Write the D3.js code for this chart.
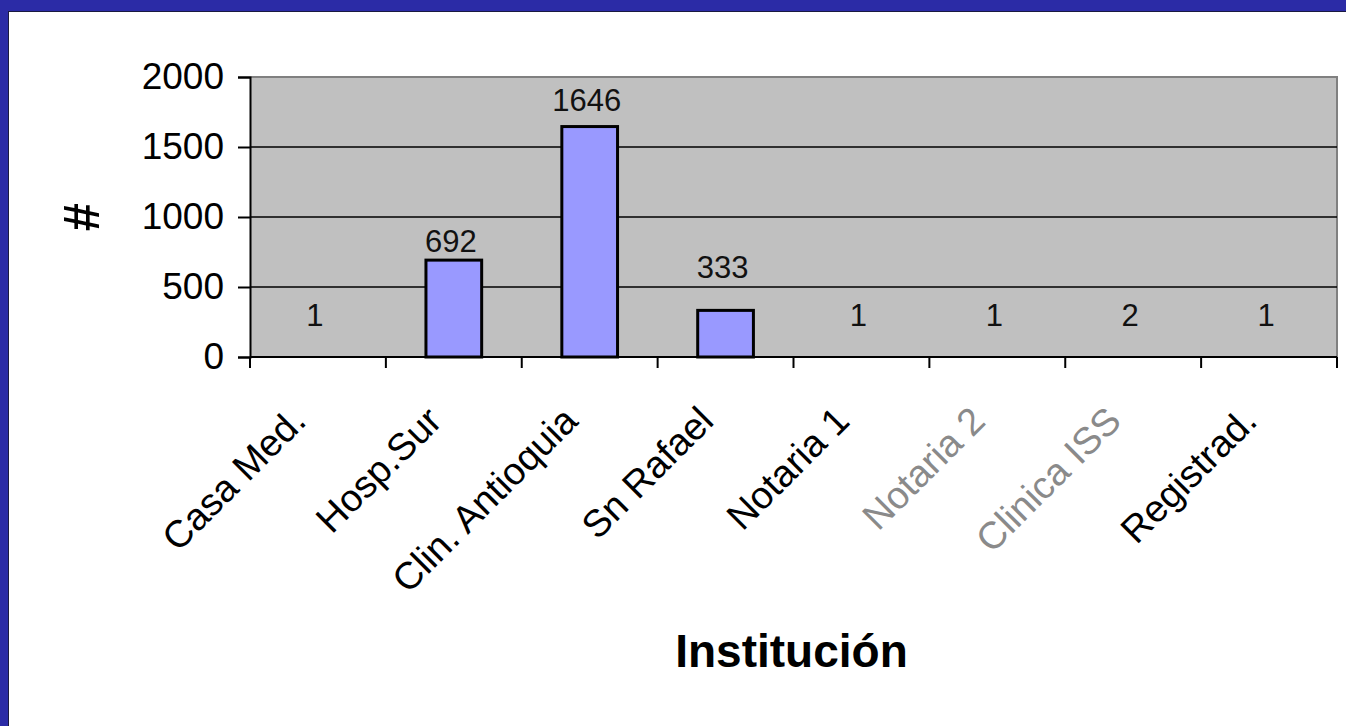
<!DOCTYPE html>
<html>
<head>
<meta charset="utf-8">
<script src="https://cdn.jsdelivr.net/npm/d3@7"></script>
<style>
  html, body { margin: 0; padding: 0; background: #ffffff; }
  svg { display: block; font-family: "Liberation Sans", Arial, sans-serif; }
</style>
</head>
<body>
<svg id="chart" width="1346" height="726"></svg>
<script>
// ---- data ----
const categories = ["Casa Med.", "Hosp.Sur", "Clin. Antioquia", "Sn Rafael", "Notaria 1", "Notaria 2", "Clinica ISS", "Registrad."];
const values = [1, 692, 1646, 333, 1, 1, 2, 1];
const yTicks = [0, 500, 1000, 1500, 2000];
const xTitle = "Institución";
const yTitle = "#";

// ---- styling helpers (not data) ----
const labelLift = [31, 8, 16, 32, 31, 31, 31, 31];
const catLabelColor = ["#000", "#000", "#000", "#000", "#000", "#8a8a8a", "#8a8a8a", "#000"];

const W = 1346, H = 726;
const svg = d3.select("#chart");

// frame
svg.append("rect").attr("x", 0).attr("y", 0).attr("width", W).attr("height", H).attr("fill", "#2B2BA6");
svg.append("rect").attr("x", 8).attr("y", 11).attr("width", W - 8).attr("height", H - 11).attr("fill", "#ffffff");
svg.append("line").attr("x1", 8.5).attr("x2", 8.5).attr("y1", 11).attr("y2", H).attr("stroke", "#1a1a40").attr("stroke-width", 1);
svg.append("line").attr("x1", 8).attr("x2", W).attr("y1", 11.5).attr("y2", 11.5).attr("stroke", "#1a1a40").attr("stroke-width", 1);

const plot = { left: 250, right: 1337, top: 77, bottom: 357 };

const x = d3.scaleBand().domain(categories).range([plot.left, plot.right]).paddingInner(0).paddingOuter(0);
const y = d3.scaleLinear().domain([0, 2000]).range([plot.bottom, plot.top]);

// plot background
svg.append("rect")
  .attr("x", plot.left).attr("y", plot.top)
  .attr("width", plot.right - plot.left).attr("height", plot.bottom - plot.top)
  .attr("fill", "#C0C0C0");

// plot border (top & right gray)
svg.append("path")
  .attr("d", `M${plot.left},${plot.top}H${plot.right}V${plot.bottom}`)
  .attr("fill", "none").attr("stroke", "#808080").attr("stroke-width", 2);

// gridlines
svg.append("g").selectAll("line").data(yTicks.filter(d => d > 0 && d < 2000)).join("line")
  .attr("x1", plot.left).attr("x2", plot.right)
  .attr("y1", d => y(d)).attr("y2", d => y(d))
  .attr("stroke", "#000").attr("stroke-width", 1.5);

// bars (bars thinner than a pixel show no outline, as in the original)
const barW = x.bandwidth() * 0.41;
svg.append("g").selectAll("rect").data(values).join("rect")
  .attr("x", (d, i) => x(categories[i]) + (x.bandwidth() - barW) / 2)
  .attr("y", d => y(d))
  .attr("width", barW)
  .attr("height", d => y(0) - y(d))
  .attr("fill", "#9999FF")
  .attr("stroke", d => (y(0) - y(d)) > 1 ? "#000" : "none").attr("stroke-width", 3);

// y axis
const yAxis = d3.axisLeft(y).tickValues(yTicks).tickSize(12).tickPadding(14).tickFormat(d3.format("d"));
const gy = svg.append("g").attr("transform", `translate(${plot.left},0)`).call(yAxis);
gy.select(".domain").attr("stroke", "#000").attr("stroke-width", 2);
gy.selectAll(".tick line").attr("stroke", "#000").attr("stroke-width", 2);
gy.selectAll(".tick text").attr("font-size", 37).attr("fill", "#000")
  .attr("font-family", "'Liberation Sans', Arial, sans-serif");

// x axis: ticks at band boundaries
const xa = svg.append("g");
xa.append("line").attr("x1", plot.left).attr("x2", plot.right)
  .attr("y1", plot.bottom).attr("y2", plot.bottom).attr("stroke", "#000").attr("stroke-width", 2);
const bounds = categories.map(c => x(c)).concat([plot.right]);
xa.selectAll("line.tk").data(bounds).join("line").attr("class", "tk")
  .attr("x1", d => d).attr("x2", d => d)
  .attr("y1", plot.bottom).attr("y2", plot.bottom + 11)
  .attr("stroke", "#000").attr("stroke-width", 2);

// category labels
xa.selectAll("text.cat").data(categories).join("text").attr("class", "cat")
  .attr("transform", d => `translate(${x(d) + x.bandwidth() / 2 - 10},${plot.bottom + 66}) rotate(-45)`)
  .attr("text-anchor", "end")
  .attr("font-size", 38)
  .attr("fill", (d, i) => catLabelColor[i])
  .text(d => d);

// value labels
svg.append("g").selectAll("text").data(values).join("text")
  .attr("x", (d, i) => x(categories[i]) + x.bandwidth() / 2 - 3)
  .attr("y", (d, i) => y(d) - labelLift[i])
  .attr("text-anchor", "middle")
  .attr("font-size", 31)
  .attr("fill", "#111")
  .text(d => d);

// axis titles
svg.append("text")
  .attr("x", (plot.left + plot.right) / 2 - 2).attr("y", 667)
  .attr("text-anchor", "middle").attr("font-size", 46).attr("font-weight", "bold")
  .attr("fill", "#000").text(xTitle);

svg.append("text")
  .attr("transform", `translate(99,${(plot.top + plot.bottom) / 2}) rotate(-90)`)
  .attr("text-anchor", "middle").attr("font-size", 50).attr("font-weight", "bold")
  .attr("fill", "#000").text(yTitle);
</script>
</body>
</html>
